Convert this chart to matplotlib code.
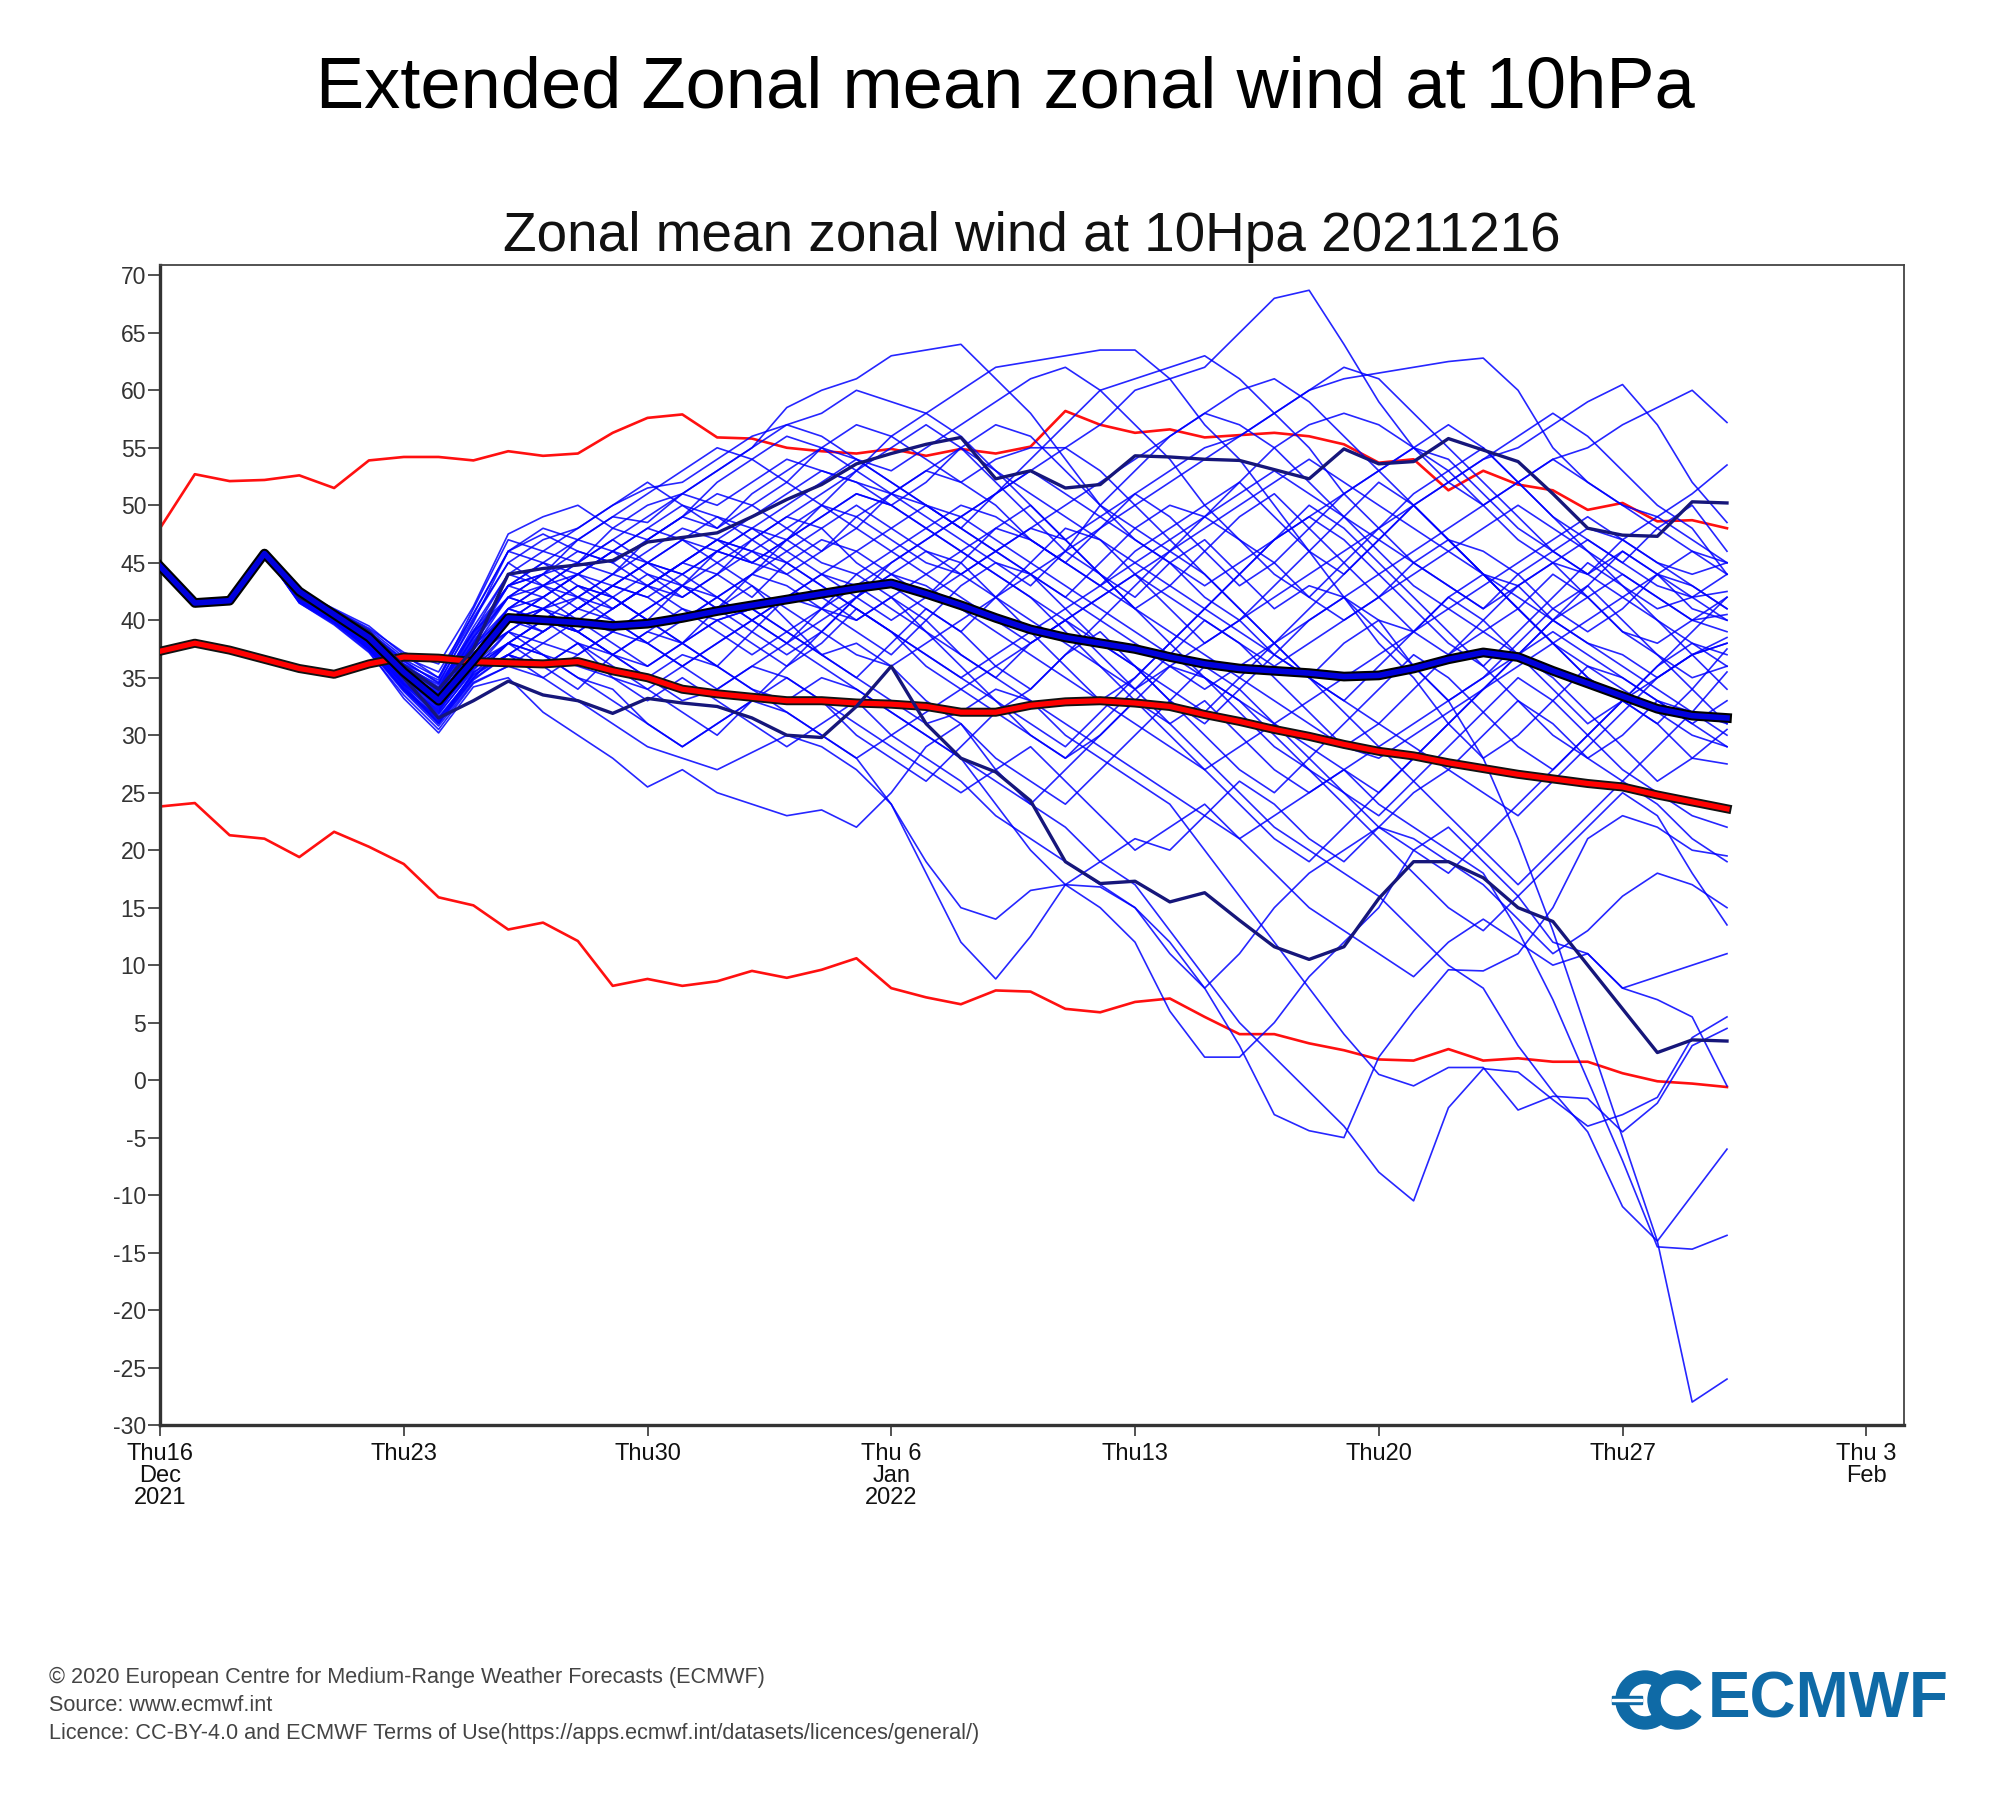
import numpy as np
import matplotlib.pyplot as plt
from matplotlib.patches import Wedge, Rectangle

plt.rcParams['font.family'] = ['Liberation Sans', 'DejaVu Sans']
plt.rcParams['axes.unicode_minus'] = False

# ---- data: zonal mean zonal wind at 10 hPa (m/s), daily from 16 Dec 2021 ----
dates = np.arange(np.datetime64('2021-12-16'), np.datetime64('2022-01-31'))

clim_max = [48.0, 52.7, 52.1, 52.2, 52.6, 51.5, 53.9, 54.2, 54.2, 53.9,
            54.7, 54.3, 54.5, 56.3, 57.6, 57.9, 55.9, 55.8, 55.0, 54.7,
            54.5, 54.9, 54.3, 54.9, 54.5, 55.1, 58.2, 57.0, 56.3, 56.6,
            55.9, 56.1, 56.3, 56.0, 55.3, 53.7, 54.0, 51.3, 53.0, 51.8,
            51.3, 49.6, 50.2, 48.6, 48.7, 48.0]
clim_min = [23.8, 24.1, 21.3, 21.0, 19.4, 21.6, 20.3, 18.8, 15.9, 15.2,
            13.1, 13.7, 12.1, 8.2, 8.8, 8.2, 8.6, 9.5, 8.9, 9.6,
            10.6, 8.0, 7.2, 6.6, 7.8, 7.7, 6.2, 5.9, 6.8, 7.1,
            5.5, 4.0, 4.0, 3.2, 2.6, 1.8, 1.7, 2.7, 1.7, 1.9,
            1.6, 1.6, 0.6, -0.1, -0.3, -0.6]
clim_mean = [37.3, 38.0, 37.4, 36.6, 35.8, 35.3, 36.2, 36.8, 36.7, 36.4,
             36.3, 36.2, 36.4, 35.6, 35.0, 34.0, 33.6, 33.3, 33.0, 33.0,
             32.8, 32.7, 32.5, 32.0, 32.0, 32.6, 32.9, 33.0, 32.8, 32.5,
             31.8, 31.2, 30.5, 29.9, 29.2, 28.6, 28.2, 27.6, 27.1, 26.6,
             26.2, 25.8, 25.5, 24.8, 24.2, 23.6]
ens_mean = [44.7, 41.5, 41.7, 45.8, 42.5, 40.5, 38.5, 35.5, 33.0, 36.5,
            40.2, 40.0, 39.8, 39.5, 39.7, 40.2, 40.8, 41.3, 41.8, 42.3,
            42.8, 43.2, 42.3, 41.3, 40.2, 39.2, 38.5, 38.0, 37.5, 36.8,
            36.2, 35.8, 35.6, 35.4, 35.1, 35.2, 35.8, 36.6, 37.2, 36.8,
            35.6, 34.5, 33.4, 32.3, 31.7, 31.5]
ctrl_hi = [44.7, 41.5, 41.7, 45.8, 42.3, 40.8, 39.0, 36.0, 34.0, 37.5,
           44.0, 44.5, 44.8, 45.2, 46.8, 47.2, 47.6, 49.0, 50.5, 51.8,
           53.6, 54.5, 55.3, 55.9, 52.3, 53.0, 51.5, 51.8, 54.3, 54.2,
           54.0, 53.9, 53.1, 52.3, 54.9, 53.6, 53.8, 55.8, 54.8, 53.8,
           51.0, 48.0, 47.4, 47.3, 50.3, 50.2]
ctrl_lo = [44.7, 41.5, 41.7, 45.8, 42.0, 40.5, 38.4, 35.0, 31.5, 33.0,
           34.7, 33.5, 33.0, 31.9, 33.2, 32.8, 32.5, 31.5, 30.0, 29.8,
           32.5, 36.0, 31.0, 28.0, 26.8, 24.3, 19.0, 17.1, 17.3, 15.5,
           16.3, 13.9, 11.6, 10.5, 11.6, 15.8, 19.0, 19.0, 17.6, 15.0,
           13.8, 10.0, 6.2, 2.4, 3.5, 3.4]

# ensemble members
m01 = [44.7, 41.5, 41.7, 45.8, 42.5, 41.0, 39.5, 37.0, 35.0, 41.0,
       47, 46, 45, 48, 50, 51, 50, 52, 54, 53, 52, 51, 53, 52, 54, 55, 55, 57, 60, 61,
       62, 65, 68, 68.7, 64, 59, 55, 52, 50, 47, 45, 44, 46, 44, 41, 40]
m02 = [44.7, 41.5, 41.7, 45.8, 42.0, 40.5, 38.5, 35.5, 33.5, 38.0,
       43, 44, 47, 49, 48.5, 51, 53, 55, 58.5, 60, 61, 63, 63.5, 64, 61, 58, 54, 50, 47, 45,
       42, 40, 37, 35, 38, 40, 39, 42, 44, 43, 40, 38, 37, 35, 37, 38]
m03 = [44.7, 41.5, 41.7, 45.8, 42.3, 40.8, 39.0, 36.5, 34.5, 40.0,
       45, 47, 48, 50, 51.5, 52, 54, 56, 57, 58, 60, 59, 58, 60, 62, 62.5, 63, 63.5, 63.5, 61,
       57, 54, 50, 46, 42, 38, 35, 31, 28, 30, 33, 36, 35, 33, 32, 30]
m04 = [44.7, 41.5, 41.7, 45.8, 41.8, 40.2, 38.0, 35.0, 32.5, 36.0,
       40, 41, 42, 44, 43, 45, 47, 46, 48, 50, 49, 47, 45, 44, 46, 48, 47, 49, 51, 53,
       55, 56, 58, 60, 61, 61.5, 62, 62.5, 62.8, 60, 55, 52, 50, 49, 51, 53.5]
m05 = [44.7, 41.5, 41.7, 45.8, 42.1, 40.6, 38.8, 36.0, 34.0, 38.5,
       42, 43, 41, 43, 45, 44, 46, 48, 47, 45, 44, 46, 48, 50, 49, 47, 45, 43, 46, 48,
       50, 52, 49, 46, 44, 47, 50, 52, 54, 55, 57, 59, 60.5, 57, 52, 48.5]
m06 = [44.7, 41.5, 41.7, 45.8, 42.0, 40.3, 38.2, 35.2, 33.0, 37.0,
       41, 42, 44, 43, 45, 47, 46, 45, 47, 49, 51, 50, 52, 55, 57, 56, 53, 50, 48, 46,
       49, 52, 55, 57, 58, 57, 55, 53, 50, 52, 54, 55, 57, 58.5, 60, 57.2]
m07 = [44.7, 41.5, 41.7, 45.8, 42.4, 40.9, 39.2, 36.8, 35.5, 40.5,
       46, 47.5, 46, 45, 47, 49, 48, 50, 52, 55, 54, 52, 50, 48, 51, 54, 57, 60, 61, 62,
       63, 61, 58, 55, 51, 48, 45, 43, 41, 44, 46, 48, 47, 45, 44, 45]
m08 = [44.7, 41.5, 41.7, 45.8, 41.9, 40.4, 38.3, 34.5, 32.0, 36.5,
       41, 40, 42, 41, 43, 45, 44, 42, 45, 47, 46, 44, 42, 45, 48, 50, 47, 44, 42, 45,
       47, 44, 41, 43, 42, 40, 36, 33, 28, 21, 13, 4, -5, -14, -28, -26]
m09 = [44.7, 41.5, 41.7, 45.8, 42.0, 40.5, 38.6, 35.8, 33.8, 37.8,
       40.5, 39, 41, 43, 42, 40, 42, 44, 43, 41, 40, 42, 40, 37, 35, 38, 40, 37, 34, 31,
       33, 30, 27, 25, 27, 24, 22, 20, 18, 13, 7, 0, -7, -14.5, -14.7, -13.5]
m10 = [44.7, 41.5, 41.7, 45.8, 41.6, 39.8, 37.5, 34.0, 31.5, 35.0,
       38, 40, 39, 37, 39, 41, 40, 38, 36, 38, 41, 39, 36, 34, 32, 30, 28, 30, 33, 31,
       28, 25, 22, 20, 18, 16, 13, 10, 8, 3, -1, -4.5, -11, -14, -10, -6]
m11 = [44.7, 41.5, 41.7, 45.8, 41.7, 40.0, 37.8, 34.3, 31.0, 35.5,
       37, 36, 38, 35, 33, 35, 33, 31, 29, 31, 33, 30, 28, 26, 23, 21, 19, 17, 15, 12,
       8, 3, -3, -4.4, -5, 2, 6, 9.6, 9.5, 11, 15, 21, 23, 22, 20, 19.5]
m12 = [44.7, 41.5, 41.7, 45.8, 42.2, 40.7, 38.9, 36.2, 34.2, 39.0,
       42, 41, 39, 37, 35, 37, 36, 34, 33, 35, 34, 32, 30, 28, 24, 20, 17, 15, 12, 6,
       2, 2, 5, 9, 12, 15, 20, 22, 19, 16, 12, 11, 8, 9, 10, 11]
m13 = [44.7, 41.5, 41.7, 45.8, 41.5, 39.6, 37.2, 33.5, 30.5, 34.5,
       36, 35, 33, 31, 29, 28, 27, 28.5, 30, 29, 27, 24, 18, 12, 8.8, 12.5, 17, 19, 21, 20,
       23, 26, 24, 21, 19, 22, 25, 27, 30, 33, 31, 28, 30, 33, 31, 29]
m14 = [44.7, 41.5, 41.7, 45.8, 41.8, 40.1, 37.9, 34.8, 32.3, 35.8,
       38, 37, 35, 34, 31, 29, 31, 33, 32, 30, 28, 24, 19, 15, 14, 16.5, 17, 16.8, 15, 11,
       8, 11, 15, 18, 20, 22, 21, 19, 17, 14, 11, 13, 16, 18, 17, 15]
m15 = [44.7, 41.5, 41.7, 45.8, 41.9, 40.2, 38.4, 35.4, 33.2, 37.2,
       39, 41, 43, 42, 40, 38, 40, 41, 39, 37, 38, 36, 33, 31, 27, 24, 22, 19, 17, 13,
       9, 5, 2, -1, -4, -8, -10.5, -2.4, 1, 0.7, -1.7, -4, -3, -1.5, 3.7, 5.5]
m16 = [44.7, 41.5, 41.7, 45.8, 41.8, 40.0, 37.8, 34.4, 31.8, 35.8,
       38, 40, 39, 37, 36, 38, 40, 41, 39, 37, 35, 33, 31, 32, 34, 33, 30, 28, 26, 24,
       20, 16, 12, 8, 4, 0.5, -0.5, 1.1, 1.1, -2.6, -1.4, -1.6, -4.5, -2, 3, 4.5]
m17 = [44.7, 41.5, 41.7, 45.8, 41.6, 39.9, 37.5, 34.0, 31.1, 34.9,
       37, 36, 38, 37, 35, 33, 34, 36, 35, 33, 31, 29, 27, 25, 27, 29, 26, 23, 20, 22,
       24, 21, 18, 15, 13, 11, 9, 12, 14, 12, 10, 11, 8, 7, 5.5, -0.5]
m18 = [44.7, 41.5, 41.7, 45.8, 42.0, 40.4, 38.5, 35.6, 33.6, 38.2,
       42, 44, 45, 44, 46, 48, 47, 45, 44, 46, 49, 51, 50, 48, 46, 44, 42, 45, 48, 50,
       49, 47, 45, 42, 40, 42, 45, 47, 46, 44, 41, 39, 41, 44, 46, 45]
m19 = [44.7, 41.5, 41.7, 45.8, 41.7, 40.0, 37.6, 34.0, 31.2, 35.0,
       38, 36, 34, 37, 39, 38, 36, 39, 42, 41, 39, 37, 40, 43, 45, 44, 41, 38, 36, 33,
       31, 34, 37, 40, 42, 39, 36, 33, 35, 38, 41, 43, 40, 37, 35, 36]
m20 = [44.7, 41.5, 41.7, 45.8, 42.3, 40.7, 39.0, 36.6, 35.0, 40.2,
       45, 43, 42, 44, 47, 49, 51, 50, 48, 46, 48, 51, 53, 55, 52, 49, 46, 44, 41, 43,
       46, 49, 51, 48, 45, 42, 39, 37, 40, 43, 45, 42, 39, 38, 40, 42]
m21 = [44.7, 41.5, 41.7, 45.8, 41.9, 40.3, 38.2, 35.0, 32.4, 36.4,
       40, 42, 40, 38, 36, 38, 41, 43, 40, 37, 35, 38, 41, 39, 36, 34, 37, 40, 43, 46,
       44, 41, 38, 35, 33, 36, 39, 42, 40, 37, 34, 31, 33, 36, 38, 37]
m22 = [44.7, 41.5, 41.7, 45.8, 42.1, 40.6, 38.7, 35.9, 33.9, 38.8,
       43, 45, 47, 46, 44, 42, 44, 47, 49, 48, 45, 43, 41, 39, 42, 45, 48, 47, 44, 41,
       38, 40, 43, 46, 49, 52, 50, 47, 44, 41, 38, 35, 33, 31, 34, 37.5]
m23 = [44.7, 41.5, 41.7, 45.8, 41.6, 39.9, 37.4, 33.8, 30.8, 34.6,
       36, 38, 40, 42, 44, 43, 41, 39, 37, 39, 42, 44, 46, 45, 42, 39, 36, 33, 35, 38,
       41, 44, 47, 49, 47, 44, 41, 38, 36, 39, 42, 45, 43, 41, 42, 44]
m24 = [44.7, 41.5, 41.7, 45.8, 42.2, 40.6, 38.8, 36.1, 34.1, 39.4,
       44, 46, 48, 50, 52, 50, 48, 51, 53, 55, 57, 56, 54, 52, 50, 47, 45, 48, 51, 49,
       46, 43, 45, 48, 51, 53, 55, 54, 51, 48, 46, 44, 47, 49, 47, 45]
m25 = [44.7, 41.5, 41.7, 45.8, 41.8, 40.1, 37.9, 34.6, 31.9, 35.6,
       39, 37, 35, 33, 31, 29, 31, 33, 35, 33, 30, 28, 26, 29, 32, 34, 37, 39, 36, 33,
       30, 27, 25, 28, 31, 34, 37, 35, 32, 29, 27, 30, 33, 31, 28, 27.5]
m26 = [44.7, 41.5, 41.7, 45.8, 41.5, 39.7, 37.3, 33.2, 30.2, 34.2,
       35, 32, 30, 28, 25.5, 27, 25, 24, 23, 23.5, 22, 25, 29, 31, 28, 26, 24, 27, 30, 33,
       36, 34, 31, 28, 25, 23, 26, 29, 32, 35, 33, 30, 27, 25, 23, 22]
m27 = [44.7, 41.5, 41.7, 45.8, 42.0, 40.5, 38.4, 35.3, 33.0, 37.4,
       41, 43, 44, 42, 40, 43, 46, 48, 50, 52, 54, 53, 55, 57, 59, 61, 62, 60, 57, 54,
       50, 47, 44, 42, 45, 48, 51, 53, 55, 52, 49, 47, 45, 48, 50, 46]
m28 = [44.7, 41.5, 41.7, 45.8, 41.7, 40.0, 37.7, 34.4, 31.6, 35.2,
       37, 39, 41, 40, 38, 36, 34, 36, 38, 41, 44, 42, 39, 36, 33, 30, 28, 31, 34, 37,
       40, 38, 35, 32, 29, 31, 34, 37, 39, 41, 44, 42, 39, 37, 34, 31]
m29 = [44.7, 41.5, 41.7, 45.8, 42.4, 40.9, 39.3, 37.2, 36.2, 41.2,
       47.5, 49, 50, 48, 47, 49, 52, 54, 56, 55, 53, 51, 49, 47, 45, 43, 46, 50, 53, 56,
       58, 57, 55, 52, 49, 46, 43, 41, 39, 37, 40, 43, 46, 44, 42, 40]
m30 = [44.7, 41.5, 41.7, 45.8, 42.0, 40.4, 38.4, 35.4, 33.3, 37.6,
       40, 42, 44, 46, 48, 47, 45, 43, 41, 39, 37, 36, 38, 40, 42, 44, 46, 48, 50, 52,
       54, 56, 58, 60, 62, 61, 58, 55, 52, 49, 46, 44, 42, 40, 38, 36]
m31 = [44.7, 41.5, 41.7, 45.8, 41.8, 40.2, 38.0, 34.9, 32.6, 36.8,
       39, 38, 37, 39, 41, 43, 42, 40, 38, 36, 34, 32, 30, 28, 26, 24, 27, 30, 33, 36,
       35, 33, 30, 27, 24, 21, 18, 15, 13, 16, 19, 22, 25, 23, 18, 13.5]
m32 = [44.7, 41.5, 41.7, 45.8, 42.3, 40.8, 38.9, 36.4, 34.6, 39.8,
       46, 45, 43, 41, 43, 45, 47, 49, 51, 53, 52, 50, 48, 46, 44, 42, 40, 38, 36, 34,
       32, 35, 38, 41, 44, 47, 50, 52, 54, 56, 58, 56, 53, 50, 48, 44]
m33 = [44.7, 41.5, 41.7, 45.8, 41.6, 39.8, 37.5, 33.9, 31.0, 34.8,
       37, 35, 37, 39, 38, 36, 38, 40, 42, 44, 46, 48, 50, 49, 47, 45, 43, 41, 39, 37,
       35, 33, 31, 29, 27, 25, 28, 31, 34, 37, 40, 38, 36, 34, 32, 31]
m34 = [44.7, 41.5, 41.7, 45.8, 42.1, 40.5, 38.6, 35.7, 33.5, 38.0,
       42, 41, 39, 41, 43, 42, 44, 46, 45, 43, 41, 39, 37, 35, 33, 31, 29, 32, 35, 38,
       41, 44, 47, 50, 48, 45, 42, 39, 36, 33, 30, 28, 26, 29, 32, 35.5]
m35 = [44.7, 41.5, 41.7, 45.8, 41.9, 40.3, 38.3, 35.2, 32.9, 37.0,
       41, 43, 45, 47, 45, 43, 41, 44, 47, 50, 53, 56, 58, 56, 53, 50, 47, 44, 41, 38,
       35, 32, 29, 27, 25, 22, 20, 18, 21, 24, 27, 30, 33, 35, 37, 38]
m36 = [44.7, 41.5, 41.7, 45.8, 42.2, 40.7, 38.6, 36.0, 34.4, 39.1,
       43, 44, 42, 40, 38, 40, 42, 44, 46, 48, 50, 48, 46, 44, 42, 40, 38, 36, 34, 36,
       38, 40, 42, 44, 46, 48, 50, 47, 44, 41, 38, 40, 42, 44, 43, 41]
m37 = [44.7, 41.5, 41.7, 45.8, 41.7, 40.1, 37.8, 34.2, 31.4, 35.4,
       38, 40, 39, 41, 43, 45, 47, 46, 44, 42, 40, 42, 44, 46, 48, 47, 45, 43, 41, 39,
       37, 35, 33, 31, 29, 28, 30, 32, 34, 36, 38, 36, 34, 32, 30, 29]
m38 = [44.7, 41.5, 41.7, 45.8, 42.0, 40.5, 38.5, 35.5, 33.7, 38.4,
       43, 45, 44, 46, 48, 50, 49, 47, 45, 43, 41, 39, 37, 35, 37, 39, 41, 43, 45, 47,
       49, 51, 53, 51, 49, 47, 45, 43, 41, 43, 45, 47, 45, 43, 42, 42.5]
m39 = [44.7, 41.5, 41.7, 45.8, 41.8, 40.2, 38.1, 34.7, 32.1, 36.0,
       39, 41, 43, 42, 40, 38, 36, 34, 32, 30, 28, 30, 32, 34, 36, 38, 40, 42, 44, 46,
       48, 50, 52, 54, 52, 50, 48, 46, 44, 42, 40, 42, 44, 42, 40, 40.5]
m40 = [44.7, 41.5, 41.7, 45.8, 42.3, 40.6, 38.7, 36.2, 34.8, 40.6,
       46, 48, 47, 49, 51, 53, 55, 54, 52, 50, 48, 46, 44, 42, 40, 38, 40, 42, 44, 42,
       40, 38, 36, 38, 40, 42, 44, 46, 48, 50, 48, 46, 44, 42, 40, 39]
m41 = [44.7, 41.5, 41.7, 45.8, 41.9, 40.4, 38.3, 35.3, 33.1, 37.1,
       40, 39, 41, 43, 42, 44, 46, 45, 47, 49, 51, 50, 48, 46, 44, 42, 39, 36, 33, 30,
       27, 24, 21, 19, 22, 25, 28, 31, 34, 37, 35, 32, 29, 26, 28, 30.5]
m42 = [44.7, 41.5, 41.7, 45.8, 42.1, 40.6, 38.6, 35.8, 33.4, 38.6,
       43, 42, 44, 46, 45, 47, 49, 48, 46, 44, 42, 40, 42, 44, 46, 48, 50, 52, 54, 56,
       58, 60, 61, 59, 56, 53, 50, 47, 44, 41, 38, 35, 33, 36, 39, 42]
m43 = [44.7, 41.5, 41.7, 45.8, 41.7, 40.0, 37.6, 34.1, 31.3, 35.3,
       37, 39, 41, 43, 45, 44, 42, 40, 38, 40, 42, 44, 43, 41, 39, 37, 35, 33, 31, 29,
       27, 29, 31, 33, 35, 37, 39, 41, 43, 45, 47, 49, 47, 45, 43, 41]
m44 = [44.7, 41.5, 41.7, 45.8, 42.0, 40.3, 38.4, 35.5, 33.0, 37.8,
       41, 40, 38, 36, 34, 32, 30, 33, 36, 39, 42, 45, 47, 49, 51, 53, 55, 53, 50, 47,
       44, 41, 38, 35, 32, 29, 26, 23, 20, 17, 20, 23, 26, 24, 21, 19]
m45 = [44.7, 41.5, 41.7, 45.8, 42.2, 40.6, 38.8, 36.0, 34.0, 39.0,
       44, 43, 45, 47, 49, 51, 53, 55, 57, 56, 54, 52, 50, 48, 46, 44, 42, 40, 38, 36,
       34, 36, 38, 40, 42, 44, 46, 48, 50, 52, 54, 52, 50, 48, 46, 44]
m46 = [44.7, 41.5, 41.7, 45.8, 41.8, 40.1, 38.0, 34.5, 32.2, 36.2,
       38, 37, 36, 35, 34, 36, 38, 40, 42, 44, 43, 41, 39, 37, 35, 33, 31, 29, 27, 25,
       23, 21, 23, 25, 27, 29, 31, 33, 35, 37, 39, 37, 35, 33, 31, 33]
m47 = [44.7, 41.5, 41.7, 45.8, 42.1, 40.4, 38.5, 35.6, 33.2, 37.5,
       42, 44, 46, 45, 43, 41, 39, 37, 39, 41, 43, 45, 47, 49, 51, 53, 51, 49, 47, 45,
       43, 45, 47, 49, 51, 53, 55, 57, 55, 52, 49, 46, 43, 40, 37, 34]
m48 = [44.7, 41.5, 41.7, 45.8, 41.9, 40.3, 38.2, 35.0, 32.6, 36.6,
       40, 41, 40, 39, 41, 43, 45, 47, 49, 51, 53, 55, 57, 55, 53, 51, 49, 47, 45, 43,
       41, 39, 37, 35, 33, 31, 29, 27, 25, 23, 26, 29, 32, 35, 37, 38.5]

members = [m01, m02, m03, m04, m05, m06, m07, m08, m09, m10, m11, m12,
           m13, m14, m15, m16, m17, m18, m19, m20, m21, m22, m23, m24,
           m25, m26, m27, m28, m29, m30, m31, m32, m33, m34, m35, m36,
           m37, m38, m39, m40, m41, m42, m43, m44, m45, m46, m47, m48]

tick_dates = np.arange(np.datetime64('2021-12-16'), np.datetime64('2022-02-04'), 7)
tick_labels = ['Thu16\nDec\n2021', 'Thu23', 'Thu30', 'Thu 6\nJan\n2022',
               'Thu13', 'Thu20', 'Thu27', 'Thu 3\nFeb']
footer = ['\u00a9 2020 European Centre for Medium-Range Weather Forecasts (ECMWF)',
          'Source: www.ecmwf.int',
          'Licence: CC-BY-4.0 and ECMWF Terms of Use(https://apps.ecmwf.int/datasets/licences/general/)']

# ---- figure ----
fig = plt.figure(figsize=(20, 18), dpi=100)
fig.text(0.5025, 0.9505, 'Extended Zonal mean zonal wind at 10hPa',
         ha='center', va='center', fontsize=52)

ax = fig.add_axes([0.08, 0.2083, 0.872, 0.6445])
fig.text(0.516, 0.8685, 'Zonal mean zonal wind at 10Hpa 20211216',
         ha='center', va='center', fontsize=39.5, color='#111111')

# climate max/min
ax.plot(dates, clim_max, color='#ff1010', lw=1.9, zorder=2)
ax.plot(dates, clim_min, color='#ff1010', lw=1.9, zorder=2)

# ensemble spaghetti
for m in members:
    ax.plot(dates, m, color='#0000ff', lw=1.2, alpha=0.85, zorder=3)

# climate mean (red with black edge)
ax.plot(dates, clim_mean, color='#111111', lw=6.5, zorder=4)
ax.plot(dates, clim_mean, color='#ff0000', lw=3.8, zorder=4.1)

# control / highlighted runs
ax.plot(dates, ctrl_hi, color='#16167a', lw=2.4, zorder=5)
ax.plot(dates, ctrl_lo, color='#16167a', lw=2.4, zorder=5)

# ensemble mean
ax.plot(dates, ens_mean, color='#000000', lw=7.0, zorder=6)
ax.plot(dates, ens_mean, color='#0000dd', lw=4.0, zorder=6.1)

ax.set_xlim(dates[0], np.datetime64('2022-02-04T02:00'))
ax.set_ylim(-30, 70.9)
ax.set_yticks(np.arange(-30, 71, 5))
ax.set_xticks(tick_dates)
ax.set_xticklabels(tick_labels, linespacing=1.0)

ax.tick_params(axis='y', direction='out', length=9, width=1.3, color='#444444',
               labelsize=16.5, labelcolor='#333333', pad=1)
ax.tick_params(axis='x', direction='out', length=8, width=1.3, color='#444444',
               labelsize=17, labelcolor='#111111', pad=5)

for side in ['left', 'bottom']:
    ax.spines[side].set_linewidth(2.4)
    ax.spines[side].set_color('#333333')
for side in ['top', 'right']:
    ax.spines[side].set_linewidth(1.3)
    ax.spines[side].set_color('#444444')

# footer
for i, line in enumerate(footer):
    fig.text(0.0245, 0.0683 - i * 0.0156, line, ha='left', va='center',
             fontsize=15.6, color='#444444')

# ECMWF logo
lg = fig.add_axes([1600 / 2000, 1 - 1740 / 1800, 370 / 2000, 80 / 1800])
lg.set_xlim(0, 370)
lg.set_ylim(0, 80)
lg.axis('off')
blue = '#0f6aa6'
lg.add_patch(Wedge((45, 40), 29, 35, 325, width=12, color=blue))
lg.add_patch(Wedge((77, 40), 29, 35, 325, width=12, color=blue))
lg.add_patch(Rectangle((12, 36), 30, 8, color=blue))
lg.add_patch(Rectangle((12, 39), 30, 2, color='white'))
lg.text(108, 39, 'ECMWF', fontsize=46, fontweight='bold', color=blue,
        ha='left', va='center')

fig.savefig('out.png', dpi=100)
